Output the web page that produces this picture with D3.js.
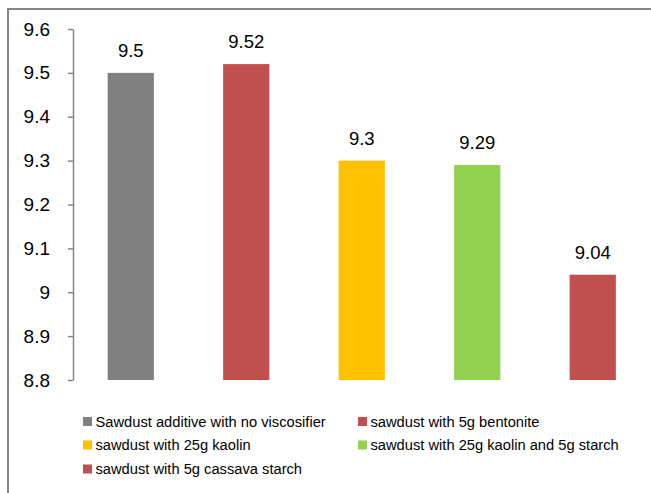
<!DOCTYPE html>
<html>
<head>
<meta charset="utf-8">
<script src="https://cdn.jsdelivr.net/npm/d3@7"></script>
<style>
  html, body { margin: 0; padding: 0; background: #fff; }
  svg { display: block; }
  text { font-family: "Liberation Sans", Arial, sans-serif; fill: #000; }
</style>
</head>
<body>
<svg id="chart" width="651" height="493"></svg>
<script>
const categories = [
  "Sawdust additive with no viscosifier",
  "sawdust with 5g bentonite",
  "sawdust with 25g kaolin",
  "sawdust with 25g kaolin and 5g starch",
  "sawdust with 5g cassava starch"
];
const values = [9.5, 9.52, 9.3, 9.29, 9.04];
const valueLabels = ["9.5", "9.52", "9.3", "9.29", "9.04"];
const colors = ["#808080", "#C0504D", "#FFC000", "#92D050", "#C0504D"];
const yTicks = [8.8, 8.9, 9, 9.1, 9.2, 9.3, 9.4, 9.5, 9.6];
const yTickLabels = ["8.8", "8.9", "9", "9.1", "9.2", "9.3", "9.4", "9.5", "9.6"];

const svg = d3.select("#chart");

// outer frame (partially clipped, like the source)
svg.append("rect")
  .attr("x", 8).attr("y", 9)
  .attr("width", 800).attr("height", 600)
  .attr("fill", "none")
  .attr("stroke", "#868686")
  .attr("stroke-width", 2);

const x = d3.scaleBand()
  .domain(categories)
  .range([73, 650.5])
  .paddingInner(0.6)
  .paddingOuter(0.3);

const y = d3.scaleLinear()
  .domain([8.8, 9.6])
  .range([380, 29]);

// bars
svg.append("g").selectAll("rect")
  .data(categories)
  .join("rect")
  .attr("x", d => x(d))
  .attr("width", x.bandwidth())
  .attr("y", (d, i) => y(values[i]))
  .attr("height", (d, i) => y(8.8) - y(values[i]))
  .attr("fill", (d, i) => colors[i]);

// value labels
svg.append("g").selectAll("text")
  .data(categories)
  .join("text")
  .attr("x", d => x(d) + x.bandwidth() / 2)
  .attr("y", (d, i) => y(values[i]) - 16)
  .attr("text-anchor", "middle")
  .style("font-size", "18.5px")
  .text((d, i) => valueLabels[i]);

// y axis
const yAxis = d3.axisLeft(y)
  .tickValues(yTicks)
  .tickFormat((d, i) => yTickLabels[i])
  .tickSize(5)
  .tickPadding(18)
  .tickSizeOuter(0);

const gy = svg.append("g")
  .attr("transform", "translate(73,0)")
  .call(yAxis);
gy.select(".domain").attr("stroke", "#868686").attr("stroke-width", 1.5);
gy.selectAll(".tick line").attr("stroke", "#868686").attr("stroke-width", 1.5);
gy.selectAll(".tick text")
  .style("font-family", "'Liberation Sans', Arial, sans-serif")
  .style("font-size", "19px")
  .attr("fill", "#000");

// legend
const legendPos = [
  [83, 421.5], [358, 421.5],
  [83, 445], [358, 445],
  [83, 469]
];
const lg = svg.append("g").selectAll("g")
  .data(categories)
  .join("g")
  .attr("transform", (d, i) => `translate(${legendPos[i][0]},${legendPos[i][1]})`);
lg.append("rect")
  .attr("x", 0).attr("y", -4.5)
  .attr("width", 9).attr("height", 9)
  .attr("fill", (d, i) => colors[i]);
lg.append("text")
  .attr("x", 12.5)
  .attr("y", 0)
  .attr("dy", "0.35em")
  .style("font-size", "14.7px")
  .text(d => d);
</script>
</body>
</html>
